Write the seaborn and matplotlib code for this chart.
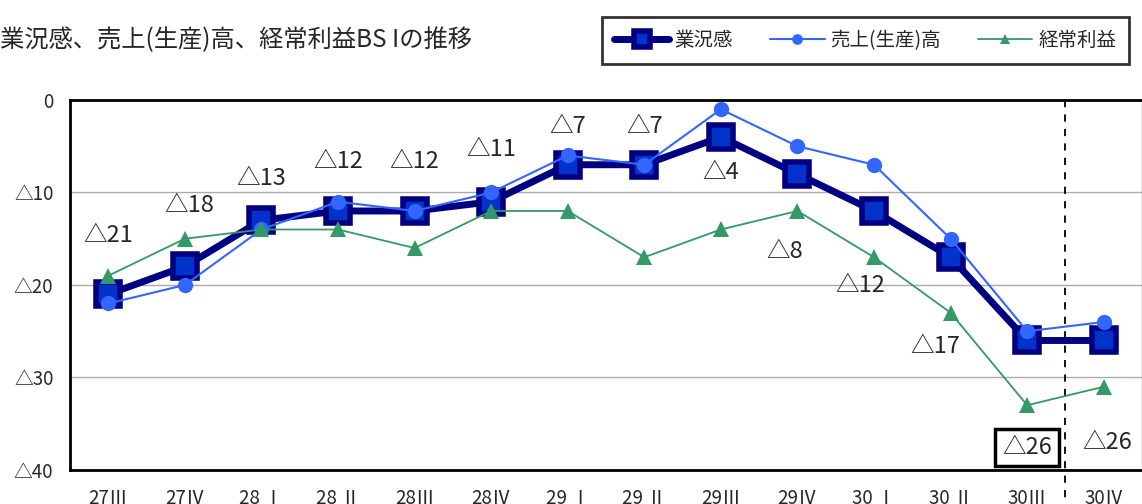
import numpy as np
import pandas as pd
import seaborn as sns
import matplotlib.pyplot as plt

# quarters (heisei year + quarter)
quarters = ["27Ⅲ", "27Ⅳ", "28 Ⅰ", "28 Ⅱ", "28Ⅲ", "28Ⅳ", "29 Ⅰ",
            "29 Ⅱ", "29Ⅲ", "29Ⅳ", "30 Ⅰ", "30 Ⅱ", "30Ⅲ", "30Ⅳ"]
gyokyo = [-21, -18, -13, -12, -12, -11, -7, -7, -4, -8, -12, -17, -26, -26]
uriage = [-22, -20, -14, -11, -12, -10, -6, -7, -1, -5, -7, -15, -25, -24]
keijo = [-19, -15, -14, -14, -16, -12, -12, -17, -14, -12, -17, -23, -33, -31]

# label placement for 業況感 values (x shift, y position in data units)
label_dx = [0, 0.06, 0, 0, 0, 0, 0, 0, 0, -0.17, -0.18, -0.2, 0, 0.05]
label_y = [-14.6, -11.4, -8.5, -6.7, -6.7, -5.4, -2.9, -2.9, -7.8, -16.4,
           -20.1, -26.7, -37.6, -37.0]

sns.set_style("white")
plt.rcParams["font.family"] = ["Noto Sans CJK JP", "DejaVu Sans"]

x = np.arange(len(quarters))
df = pd.DataFrame({"x": x, "gyokyo": gyokyo, "uriage": uriage, "keijo": keijo})

fig = plt.figure(figsize=(11.42, 5.04), dpi=100)
ax = fig.add_axes([0.0613, 0.0675, 0.9387, 0.7341])

sns.lineplot(data=df, x="x", y="gyokyo", ax=ax, color="#000080", lw=5,
             marker="s", markersize=17, markerfacecolor="#0033CC",
             markeredgecolor="#000080", markeredgewidth=4, label="業況感",
             zorder=3)
sns.lineplot(data=df, x="x", y="uriage", ax=ax, color="#3366FF", lw=1.5,
             marker="o", markersize=11, markeredgewidth=0, label="売上(生産)高",
             zorder=4)
sns.lineplot(data=df, x="x", y="keijo", ax=ax, color="#339966", lw=1.3,
             marker="^", markersize=11, markeredgewidth=0, label="経常利益",
             zorder=5)

for i, v in enumerate(gyokyo):
    txt = "△" + str(abs(v))
    if i == 12:
        ax.text(x[i] + label_dx[i], label_y[i], txt, ha="center", va="center",
                fontsize=17, zorder=6,
                bbox=dict(boxstyle="square,pad=0.3", fc="white", ec="black", lw=2.5))
    else:
        ax.text(x[i] + label_dx[i], label_y[i], txt, ha="center", va="center",
                fontsize=17, zorder=6)

ax.set_xlim(-0.5, len(quarters) - 0.5)
ax.set_ylim(-40, 0)
ax.set_yticks([0, -10, -20, -30, -40])
ax.set_yticklabels(["0", "△10", "△20", "△30", "△40"], fontsize=13.5)
ax.set_xticks(x)
ax.set_xticklabels(quarters, fontsize=13.5)
ax.tick_params(axis="x", pad=13, length=0)
ax.tick_params(axis="y", pad=12, length=0)
ax.set_xlabel("")
ax.set_ylabel("")
ax.yaxis.grid(True, color="#aaaaaa", lw=1)

for s in ["left", "bottom", "top"]:
    ax.spines[s].set_color("black")
    ax.spines[s].set_linewidth(2)
ax.spines["right"].set_color("#999999")
ax.spines["right"].set_linewidth(1)

# forecast divider
ax.plot([12.5, 12.5], [0, -43.5], color="black", lw=1.3, ls=(0, (4, 4)),
        clip_on=False, zorder=2)

ax.get_legend().remove()
handles, labels = ax.get_legend_handles_labels()
leg = fig.legend(handles, labels, loc="upper right", bbox_to_anchor=(0.997, 0.985),
                 ncol=3, fontsize=14, frameon=True, fancybox=False,
                 edgecolor="black", handlelength=2.8, columnspacing=1.9,
                 markerscale=0.7, borderpad=0.65, handletextpad=0.3)
leg.get_frame().set_linewidth(2)

fig.text(0.0, 0.92, "業況感、売上(生産)高、経常利益BS Iの推移", fontsize=17.5,
         ha="left", va="center")

fig.savefig("out.png", dpi=100)
